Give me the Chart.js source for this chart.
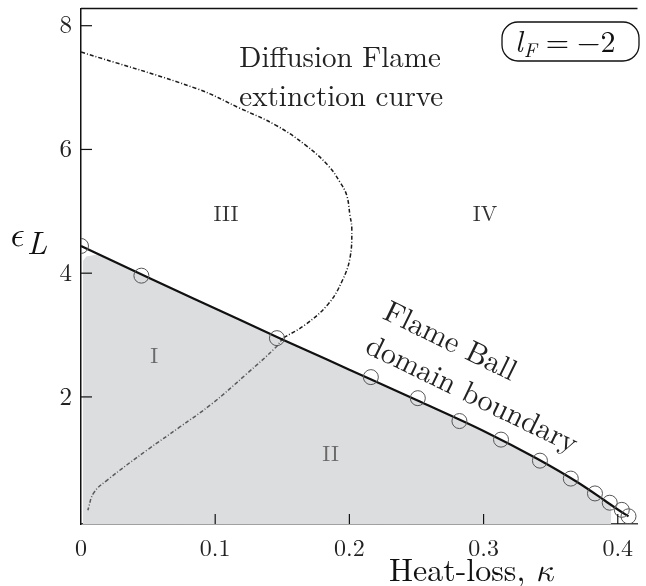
<!DOCTYPE html>
<html><head><meta charset="utf-8">
<script src="https://cdn.jsdelivr.net/npm/chart.js@4/dist/chart.umd.min.js"></script>
<style>html,body{margin:0;padding:0;background:#fff}#wrap{width:646px;height:586px;position:relative}</style>
</head><body><div id="wrap"><canvas id="c" width="646" height="586"></canvas></div>
<script>
// ---- data ----
const xTicks = [0, 0.1, 0.2, 0.3, 0.4];
const yTicks = [2, 4, 6, 8];
// flame-ball domain boundary: smooth line
const lineKappa = [0, 0.05, 0.1, 0.15, 0.2, 0.25, 0.3, 0.34, 0.37, 0.39, 0.4, 0.408];
const lineEps   = [4.44, 3.93, 3.43, 2.93, 2.44, 1.95, 1.45, 1.0, 0.62, 0.33, 0.18, 0.07];
// computed points (circle markers)
const circleKappa = [0, 0.045, 0.146, 0.216, 0.251, 0.282, 0.313, 0.342, 0.365, 0.383, 0.394, 0.403, 0.408];
const circleEps   = [4.44, 3.96, 2.95, 2.32, 1.98, 1.61, 1.31, 0.97, 0.68, 0.44, 0.29, 0.175, 0.07];
// diffusion-flame extinction curve, part above the boundary
const extUpperKappa = [0, 0.0866, 0.118, 0.1453, 0.1673, 0.1842, 0.193, 0.198, 0.2004, 0.2018, 0.2004, 0.1945, 0.1842, 0.1673, 0.1505];
const extUpperEps   = [7.575, 6.98, 6.67, 6.39, 6.07, 5.74, 5.47, 5.26, 4.94, 4.72, 4.24, 3.87, 3.50, 3.17, 2.95];
// part inside the shaded region
const extLowerKappa = [0.1505, 0.1446, 0.1233, 0.0976, 0.0734, 0.0492, 0.0198, 0.0095, 0.0051];
const extLowerEps   = [2.95, 2.79, 2.37, 1.89, 1.51, 1.14, 0.66, 0.45, 0.17];
// shaded region (regions I and II) outline
const shadeKappa = [0.0015, 0.004, 0.012, 0.05, 0.1, 0.15, 0.2, 0.25, 0.3, 0.34, 0.37, 0.39, 0.397, 0.4, 0.399, 0.395];
const shadeEps   = [4.2, 4.27, 4.30, 3.93, 3.43, 2.93, 2.44, 1.95, 1.45, 1.0, 0.62, 0.33, 0.22, 0.1, 0.0, -0.054];

const pts = (xs, ys) => xs.map((x, i) => ({x, y: ys[i]}));
const SERIF = '"Latin Modern Roman", "Liberation Serif", serif';
const MATH = '"Latin Modern Math", "Latin Modern Roman", "Liberation Serif", serif';

const annotations = [
  {text: 'Diffusion Flame', x: 0.118, y: 7.33, size: 29, align: 'left', color: '#222'},
  {text: 'extinction curve', x: 0.118, y: 6.70, size: 29, align: 'left', color: '#222'},
  {text: 'III', x: 0.108, y: 4.85, size: 22, align: 'center', color: '#333'},
  {text: 'IV', x: 0.301, y: 4.85, size: 22, align: 'center', color: '#333'},
  {text: 'I', x: 0.0545, y: 2.55, size: 22, align: 'center', color: '#6a6a6a'},
  {text: 'II', x: 0.186, y: 0.97, size: 22, align: 'center', color: '#6a6a6a'},
  {text: 'Flame Ball', x: 0.2752, y: 2.90, size: 30, align: 'center', color: '#222', rot: 26, mid: true},
  {text: 'domain boundary', x: 0.2914, y: 2.04, size: 30, align: 'center', color: '#222', rot: 26, mid: true}
];

const decor = {
  id: 'decor',
  afterDraw(chart) {
    const {ctx, chartArea: a, scales: {x, y}} = chart;
    ctx.save();
    ctx.strokeStyle = '#111'; ctx.lineWidth = 1.5;
    ctx.beginPath(); ctx.moveTo(a.left, a.top); ctx.lineTo(a.right, a.top); ctx.stroke();
    ctx.lineWidth = 1.2;
    yTicks.forEach(v => { const p = y.getPixelForValue(v); ctx.beginPath(); ctx.moveTo(a.left, p); ctx.lineTo(a.left + 11, p); ctx.stroke(); });
    xTicks.forEach(v => { if (v === 0) return; const p = x.getPixelForValue(v); ctx.beginPath(); ctx.moveTo(p, a.bottom); ctx.lineTo(p, a.bottom - 10); ctx.stroke(); });
    annotations.forEach(t => {
      ctx.save();
      ctx.fillStyle = t.color;
      ctx.font = t.size + 'px ' + SERIF;
      ctx.textAlign = t.align;
      ctx.textBaseline = t.mid ? 'middle' : 'alphabetic';
      ctx.translate(x.getPixelForValue(t.x), y.getPixelForValue(t.y));
      if (t.rot) ctx.rotate(t.rot * Math.PI / 180);
      ctx.fillText(t.text, 0, 0);
      ctx.restore();
    });
    ctx.fillStyle = '#111'; ctx.textAlign = 'left'; ctx.textBaseline = 'alphabetic';
    // y-axis title
    ctx.font = 'italic 35px ' + MATH;
    ctx.fillText('\u03F5', 8, 246);
    ctx.font = 'italic 32px ' + SERIF;
    ctx.fillText('L', 27, 254);
    // x-axis title
    const t1 = 'Heat-loss, ';
    ctx.font = '32px ' + SERIF;
    const w1 = ctx.measureText(t1).width;
    ctx.font = 'italic 32px ' + MATH;
    const w2 = ctx.measureText('\u03BA').width;
    const cx = 471, by = 581;
    ctx.font = '32px ' + SERIF;
    ctx.fillText(t1, cx - (w1 + w2) / 2, by);
    ctx.font = 'italic 32px ' + MATH;
    ctx.fillText('\u03BA', cx - (w1 + w2) / 2 + w1, by);
    // legend box
    const bx = 502, bY = 22, bw = 137, bh = 39, r = 16;
    ctx.strokeStyle = '#111'; ctx.lineWidth = 1.3;
    ctx.beginPath(); ctx.roundRect(bx, bY, bw, bh, r); ctx.stroke();
    let px = bx + 13; const base = bY + 30;
    ctx.font = 'italic 30px ' + SERIF; ctx.fillText('l', px, base); px += ctx.measureText('l').width + 1;
    ctx.font = 'italic 20px ' + SERIF; ctx.fillText('F', px, base + 5); px += ctx.measureText('F').width + 9;
    ctx.font = '30px ' + SERIF; ctx.fillText('=', px, base); px += ctx.measureText('=').width + 8;
    ctx.fillText('\u22122', px, base);
    ctx.restore();
  }
};

new Chart(document.getElementById('c'), {
  type: 'line',
  data: {
    datasets: [
      {order: 10, data: pts(shadeKappa, shadeEps), borderWidth: 0, borderColor: 'rgba(0,0,0,0)', backgroundColor: '#dcdddf', fill: 'start', pointRadius: 0, tension: 0},
      {order: 4, data: pts(extLowerKappa, extLowerEps), borderColor: '#5a5a5a', borderWidth: 1.5, borderDash: [4, 2, 1, 2], pointRadius: 0, fill: false, tension: 0.4},
      {order: 3, data: pts(extUpperKappa, extUpperEps), borderColor: '#1a1a1a', borderWidth: 1.5, borderDash: [4, 2, 1, 2], pointRadius: 0, fill: false, tension: 0.4},
      {order: 2, data: pts(lineKappa, lineEps), borderColor: '#111', borderWidth: 2.2, pointRadius: 0, fill: false, cubicInterpolationMode: 'monotone'},
      {order: 1, data: pts(circleKappa, circleEps), showLine: false, pointRadius: 7.5, pointStyle: 'circle', pointBorderColor: '#555', pointBackgroundColor: 'rgba(0,0,0,0)', pointBorderWidth: 1, fill: false}
    ]
  },
  options: {
    responsive: false, animation: false, events: [],
    layout: {padding: {left: 0, right: 0, top: 6, bottom: 0}},
    plugins: {legend: {display: false}, tooltip: {enabled: false}},
    scales: {
      x: {
        type: 'linear', min: 0, max: 0.4147,
        afterBuildTicks: s => { s.ticks = xTicks.map(v => ({value: v})); },
        afterFit: s => { s.height = 62; s.paddingLeft = 0; s.paddingRight = 0; },
        grid: {display: false, drawTicks: false},
        border: {display: true, color: '#444', width: 1.5},
        ticks: {padding: 10, color: '#222', font: {family: SERIF, size: 24}, maxRotation: 0,
          callback: v => v === 0 ? '0' : v.toFixed(1)}
      },
      y: {
        type: 'linear', min: -0.054, max: 8.278,
        afterBuildTicks: s => { s.ticks = yTicks.map(v => ({value: v})); },
        afterFit: s => { s.width = 81; s.paddingTop = 0; s.paddingBottom = 0; },
        grid: {display: false, drawTicks: false},
        border: {display: true, color: '#111', width: 1.5},
        ticks: {padding: 9, color: '#222', font: {family: SERIF, size: 25}, callback: v => String(v)}
      }
    }
  },
  plugins: [decor]
});
</script></body></html>
